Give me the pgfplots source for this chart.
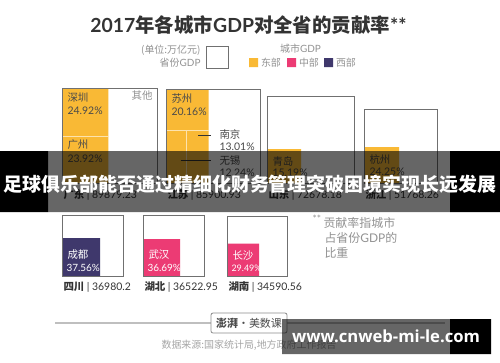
\documentclass[border=0pt]{standalone}
\usepackage{pgfplots}
\pgfplotsset{compat=1.18}
\usepackage{fontspec}
\setmainfont{Noto Sans CJK SC}
\newfontfamily\lato{Lato}
\newfontfamily\cjk{Noto Sans CJK SC}
\newfontfamily\web{Open Sans}
\definecolor{east}{HTML}{F9B935}
\definecolor{mid}{HTML}{EC3B74}
\definecolor{west}{HTML}{3F386C}
\definecolor{boxc}{HTML}{707070}
\definecolor{txt}{HTML}{333333}
\definecolor{lbl}{HTML}{4A4A4A}
\definecolor{gr}{HTML}{929292}
\newcommand{\fs}[1]{\fontsize{#1}{#1}\selectfont}
\newcommand{\rect}[5]{\addplot[#5] coordinates {(#1,#2) (#3,#2) (#3,#4) (#1,#4) (#1,#2)};}
\begin{document}
\begin{tikzpicture}
\begin{axis}[width=500bp,height=362bp,scale only axis,xmin=0,xmax=500,ymin=0,ymax=362,
  y dir=reverse,hide axis,clip=false,no markers]
\rect{0}{0}{500}{362}{draw=none,fill=white}
% ---- title
\node[text=txt,font=\fs{19.5}\bfseries] at (248.5,25) {\lato 2017\cjk 年各城市\lato GDP\cjk 对全省的贡献率\lato **};
% ---- legend
\node[anchor=east,text=gr,font=\fs{10}] at (204,50) {(单位:万亿元)};
\node[anchor=east,text=gr,font=\fs{10}] at (204,63) {省份\lato GDP};
\rect{206}{46}{228}{68}{draw=boxc,line width=1bp,fill=white}
\node[text=gr,font=\fs{10}] at (300.5,48.5) {城市\lato GDP};
\rect{249}{58}{258}{67}{draw=none,fill=east}
\node[anchor=west,text=gr,font=\fs{10}] at (257.5,62.5) {东部};
\rect{287}{58}{296}{67}{draw=none,fill=mid}
\node[anchor=west,text=gr,font=\fs{10}] at (295.5,62.5) {中部};
\rect{324}{58}{333}{67}{draw=none,fill=west}
\node[anchor=west,text=gr,font=\fs{10}] at (332.5,62.5) {西部};
% ---- Guangdong
\rect{62}{88}{108.4}{136.5}{draw=none,fill=east}
\rect{62}{136.5}{108.4}{183}{draw=none,fill=east}
\addplot[white!60!east,line width=0.8bp] coordinates {(62,136.5) (108.4,136.5)};
\rect{62}{88}{157}{183}{draw=boxc,line width=1bp}
\node[anchor=west,text=lbl,font=\fs{10.5}] at (64,98) {深圳};
\node[anchor=west,text=lbl,font=\fs{10.5}\lato] at (64,111) {24.92\%};
\node[anchor=west,text=lbl,font=\fs{10.5}] at (64,145) {广州};
\node[anchor=west,text=lbl,font=\fs{10.5}\lato] at (64,159) {23.92\%};
\node[anchor=east,text=gr,font=\fs{10.5}] at (156,96) {其他};
\node[anchor=west,text=txt,font=\fs{10.5}] at (60,195) {\textbf{广东} \lato| 89879.23};
% ---- Jiangsu
\rect{166}{89}{208.7}{130.7}{draw=none,fill=east}
\rect{166}{130.7}{186.7}{183}{draw=none,fill=east}
\rect{186.7}{130.7}{208.7}{183}{draw=none,fill=east}
\addplot[white!60!east,line width=0.8bp] coordinates {(166,130.7) (208.7,130.7)};
\addplot[white!60!east,line width=0.8bp] coordinates {(186.7,130.7) (186.7,183)};
\rect{166}{89}{260}{183}{draw=boxc,line width=1bp}
\node[anchor=west,text=lbl,font=\fs{10.5}] at (168,98.5) {苏州};
\node[anchor=west,text=lbl,font=\fs{10.5}\lato] at (168,112) {20.16\%};
\addplot[black!80,line width=0.6bp,mark=*,mark size=1.1bp,mark indices={1}] coordinates {(198.3,135) (211,135)};
\addplot[black!80,line width=0.6bp,mark=*,mark size=1.1bp,mark indices={1}] coordinates {(180.7,160) (211,160)};
\node[anchor=west,text=lbl,font=\fs{10.5}] at (216,134.5) {南京};
\node[anchor=west,text=lbl,font=\fs{10.5}\lato] at (216,147) {13.01\%};
\node[anchor=west,text=lbl,font=\fs{10.5}] at (216,161) {无锡};
\node[anchor=west,text=lbl,font=\fs{10.5}\lato] at (216,173) {12.24\%};
\node[anchor=west,text=txt,font=\fs{10.5}] at (164,195) {\textbf{江苏} \lato| 85900.93};
% ---- Shandong
\rect{267}{149}{301}{183}{draw=none,fill=east}
\rect{267}{96}{354}{183}{draw=boxc,line width=1bp}
\node[anchor=west,text=lbl,font=\fs{10.5}] at (269,162) {青岛};
\node[anchor=west,text=lbl,font=\fs{10.5}\lato] at (269,173) {15.19\%};
\node[anchor=west,text=txt,font=\fs{10.5}] at (265,195) {\textbf{山东} \lato| 72678.18};
% ---- Zhejiang
\rect{364}{147}{399}{183}{draw=none,fill=east}
\rect{364}{109.5}{437}{183}{draw=boxc,line width=1bp}
\node[anchor=west,text=lbl,font=\fs{10.5}] at (366,160) {杭州};
\node[anchor=west,text=lbl,font=\fs{10.5}\lato] at (366,172) {24.25\%};
\node[anchor=west,text=txt,font=\fs{10.5}] at (362,195) {\textbf{浙江} \lato| 51768.26};
% ---- Sichuan
\rect{62}{238}{100}{276}{draw=none,fill=west}
\rect{62}{215}{123}{276}{draw=boxc,line width=1bp}
\node[anchor=west,text=white,font=\fs{10.5}] at (64,255) {成都};
\node[anchor=west,text=white,font=\fs{10}\lato] at (63,268) {37.56\%};
\node[anchor=west,text=txt,font=\fs{10.5}] at (60,287) {\textbf{四川} \lato| 36980.2};
% ---- Hubei
\rect{143}{239}{180}{276}{draw=none,fill=mid}
\rect{143}{215}{204}{276}{draw=boxc,line width=1bp}
\node[anchor=west,text=white,font=\fs{10.5}] at (145,255) {武汉};
\node[anchor=west,text=white,font=\fs{10}\lato] at (144,268) {36.69\%};
\node[anchor=west,text=txt,font=\fs{10.5}] at (141,287) {\textbf{湖北} \lato| 36522.95};
% ---- Hunan
\rect{227}{243.5}{259}{276}{draw=none,fill=mid}
\rect{227}{216}{287}{276}{draw=boxc,line width=1bp}
\node[anchor=west,text=white,font=\fs{10.5}] at (229,256) {长沙};
\node[anchor=west,text=white,font=\fs{9}\lato] at (228,268.5) {29.49\%};
\node[anchor=west,text=txt,font=\fs{10.5}] at (225,287) {\textbf{湖南} \lato| 34590.56};
% ---- footnote
\node[anchor=west,text=gr,font=\fs{10}\lato] at (309,219) {**};
\node[anchor=west,text=gr,font=\fs{12}] at (320,223) {贡献率指城市};
\node[anchor=west,text=gr,font=\fs{12}] at (321,238) {占省份\lato GDP\cjk 的};
\node[anchor=west,text=gr,font=\fs{12}] at (321,253) {比重};
% ---- footer
\addplot[black!25,line width=1.2bp] coordinates {(55,323) (211,323)};
\addplot[black!25,line width=1.2bp] coordinates {(287,323) (445,323)};
\node[draw=black!45,rounded corners=2bp,line width=0.8bp,minimum width=76bp,minimum height=20bp,text=black!70,font=\fs{11}] at (249,323) {\textbf{澎湃}·美数课};
\node[text=black!35,font=\fs{10}] at (249,345) {数据来源:国家统计局,地方政府工作报告};
% ---- banner overlay
\rect{48}{151}{450}{212}{draw=none,fill=black,fill opacity=0.6}
\rect{0}{151}{48}{212}{draw=none,fill=black}
\rect{450}{151}{500}{212}{draw=none,fill=black}
\node[text=white,inner sep=0pt] at (250,184.5) {\resizebox{493bp}{!}{\bfseries\fs{19}足球俱乐部能否通过精细化财务管理突破困境实现长远发展}};
% ---- watermark
\rect{282}{319}{450}{354}{draw=none,fill=black,fill opacity=0.6}
\rect{450}{319}{491}{354}{draw=none,fill=black}
\node[text=white,inner sep=0pt] at (386,336.5) {\resizebox{188bp}{!}{\web\bfseries\fs{17}www.cnweb-mi-le.com}};
\end{axis}
\end{tikzpicture}
\end{document}
